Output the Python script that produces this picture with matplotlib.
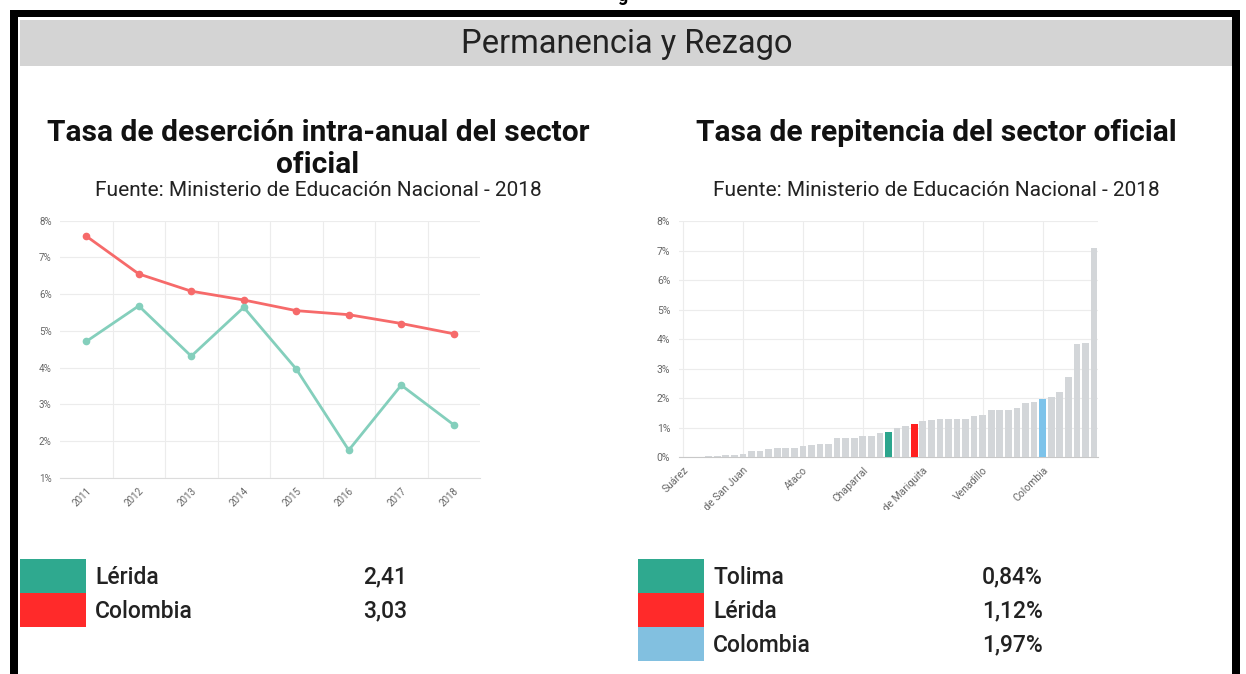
import matplotlib
matplotlib.use('Agg')
import matplotlib.pyplot as plt
from matplotlib.patches import Rectangle
from matplotlib.transforms import Bbox, TransformedBbox
from matplotlib.ticker import FuncFormatter

plt.rcParams['font.family'] = ['Roboto', 'DejaVu Sans']

# ── Données ──
anios = ['2011', '2012', '2013', '2014', '2015', '2016', '2017', '2018']
desercion_lerida = [4.71, 5.68, 4.31, 5.64, 3.96, 1.75, 3.52, 2.44]
desercion_colombia = [7.58, 6.55, 6.08, 5.84, 5.55, 5.44, 5.20, 4.92]

repitencia = [0.01, 0.01, 0.01, 0.02, 0.05, 0.06, 0.07, 0.10, 0.20, 0.20,
              0.28, 0.30, 0.32, 0.32, 0.38, 0.40, 0.45, 0.45, 0.65, 0.66,
              0.66, 0.72, 0.72, 0.80, 0.84, 0.97, 1.05, 1.12, 1.22, 1.24,
              1.29, 1.29, 1.29, 1.30, 1.40, 1.42, 1.58, 1.58, 1.60, 1.67,
              1.84, 1.85, 1.97, 2.03, 2.19, 2.70, 3.83, 3.88, 7.10]
ticks_pos = [0, 7, 14, 21, 28, 35, 42]
ticks_noms = ['Suárez', 'Valle de San Juan', 'Ataco', 'Chaparral',
              'San Sebastián de Mariquita', 'Venadillo', 'Colombia']
idx_tolima, idx_lerida, idx_colombia = 24, 27, 42

leg1_noms = ['Lérida', 'Colombia']
leg1_vals = ['2,41', '3,03']
leg2_noms = ['Tolima', 'Lérida', 'Colombia']
leg2_vals = ['0,84%', '1,12%', '1,97%']

W, H = 1246, 674
fig = plt.figure(figsize=(W / 100, H / 100), dpi=100)


def px(x, y):
    return x / W, 1 - y / H


def rect(x0, y0, x1, y1, color):
    fig.patches.append(Rectangle(px(x0, y1), (x1 - x0) / W, (y1 - y0) / H,
                                 transform=fig.transFigure, color=color, lw=0))


# cadre noir + bandeau
rect(10, 10, 1240, 17, 'black')
rect(10, 10, 18, 674, 'black')
rect(1232, 10, 1240, 674, 'black')
rect(20, 20, 1232, 66, '#d4d4d4')
fig.text(*px(627, 44), 'Permanencia y Rezago', ha='center', va='center', fontsize=23.5, color='#222')
fig.text(*px(622, 1), 'g', ha='center', va='baseline', fontsize=13, fontweight='bold')

# titres
fig.text(*px(318, 149), 'Tasa de deserción intra-anual del sector\noficial', ha='center', va='center',
         fontsize=21.5, fontweight='bold', color='#111', linespacing=1.14)
fig.text(*px(318, 191), 'Fuente: Ministerio de Educación Nacional - 2018', ha='center', va='center',
         fontsize=15, color='#222')
fig.text(*px(936, 133), 'Tasa de repitencia del sector oficial', ha='center', va='center',
         fontsize=21.5, fontweight='bold', color='#111')
fig.text(*px(936, 191), 'Fuente: Ministerio de Educación Nacional - 2018', ha='center', va='center',
         fontsize=15, color='#222')

pct = FuncFormatter(lambda v, p: f'{v:.0f}%')

# ── Graphique 1 : lignes ──
ax1 = fig.add_axes([60 / W, 1 - 477.7 / H, 420 / W, 257 / H])
x = range(len(anios))
ax1.plot(x, desercion_colombia, color='#f66a6a', lw=2, marker='o', ms=4.5, zorder=3)
ax1.plot(x, desercion_lerida, color='#84cfbc', lw=2, marker='o', ms=4.5, zorder=3)
ax1.set_xlim(-0.5, len(anios) - 0.5)
ax1.set_ylim(1, 8)
ax1.set_xticks(list(x))
ax1.set_xticklabels(anios, rotation=45, ha='right', rotation_mode='anchor')
ax1.set_xticks([i + 0.5 for i in range(len(anios) - 1)], minor=True)
ax1.yaxis.set_major_formatter(pct)
ax1.grid(False)
ax1.grid(True, which='minor', axis='x', color='#ececec', lw=0.8)
ax1.grid(True, which='major', axis='y', color='#ececec', lw=0.8)
ax1.tick_params(which='both', length=0, labelsize=7, labelcolor='#666', pad=6)
for s in ['top', 'right', 'left']:
    ax1.spines[s].set_visible(False)
ax1.spines['bottom'].set_color('#dcdcdc')
ax1.set_axisbelow(True)

# ── Graphique 2 : barres ──
ax2 = fig.add_axes([678.7 / W, 1 - 457 / H, 419.6 / W, 236 / H])
couleurs = ['#d3d6d9'] * len(repitencia)
couleurs[idx_tolima] = '#2ca58d'
couleurs[idx_lerida] = '#ff2020'
couleurs[idx_colombia] = '#7dc3ea'
ax2.bar(range(len(repitencia)), repitencia, width=0.78, color=couleurs, zorder=3)
ax2.set_xlim(-0.5, len(repitencia) - 0.5)
ax2.set_ylim(0, 8)
ax2.set_xticks(ticks_pos)
ax2.set_xticklabels(ticks_noms, rotation=45, ha='right', rotation_mode='anchor')
ax2.yaxis.set_major_formatter(pct)
ax2.grid(True, color='#ececec', lw=0.8)
ax2.tick_params(length=0, labelsize=7.5, labelcolor='#666', pad=6)
for s in ['top', 'right', 'left']:
    ax2.spines[s].set_visible(False)
ax2.spines['bottom'].set_color('#c8c8c8')
ax2.set_axisbelow(True)

# étiquettes coupées en bas de l'image
clip = TransformedBbox(Bbox.from_extents(0, 1 - 510 / H, 1, 1), fig.transFigure)
for lbl in ax2.get_xticklabels():
    lbl.set_clip_box(clip)
    lbl.set_clip_on(True)

# ── Légendes ──
leg_cols1 = ['#2fa98f', '#ff2a2a']
for i, (n, v) in enumerate(zip(leg1_noms, leg1_vals)):
    y0 = 559 + i * 34
    rect(20, y0, 86, y0 + 34, leg_cols1[i])
    fig.text(*px(95, y0 + 18), n, va='center', fontsize=16.5, fontweight='medium', color='#222')
    fig.text(*px(363, y0 + 18), v, va='center', fontsize=16.5, fontweight='medium', color='#222')

leg_cols2 = ['#2fa98f', '#ff2a2a', '#82c0e0']
for i, (n, v) in enumerate(zip(leg2_noms, leg2_vals)):
    y0 = 559 + i * 34
    rect(638, y0, 704, y0 + 34, leg_cols2[i])
    fig.text(*px(713, y0 + 18), n, va='center', fontsize=16.5, fontweight='medium', color='#222')
    fig.text(*px(982, y0 + 18), v, va='center', fontsize=16.5, fontweight='medium', color='#222')

plt.savefig('out.png', dpi=100)
